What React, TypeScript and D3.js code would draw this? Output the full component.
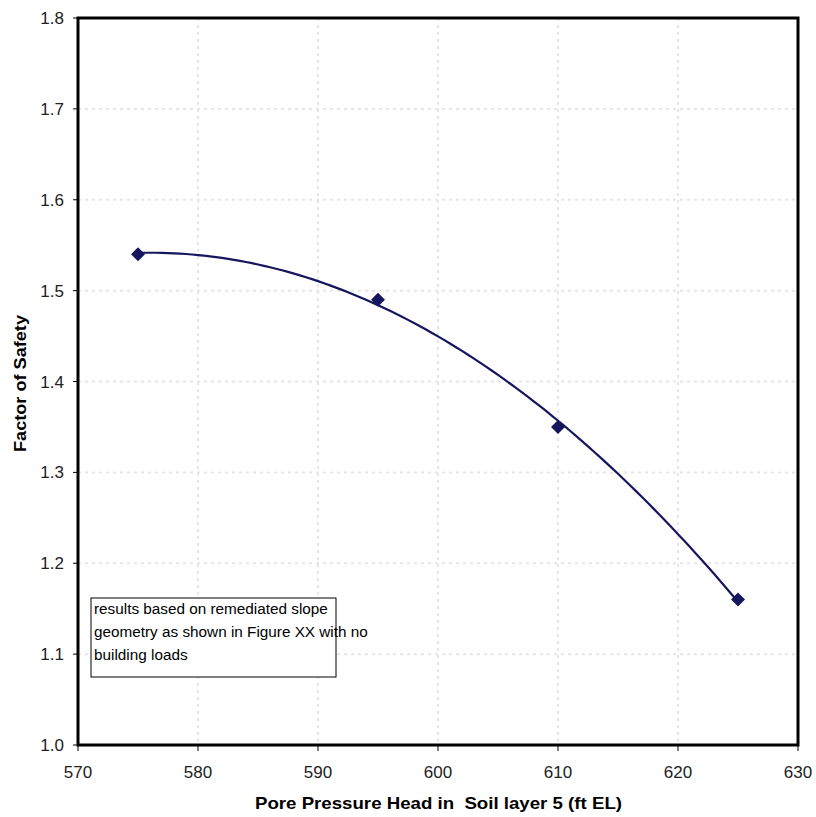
import React from "react";
import * as d3 from "d3";

const xValues = [575, 595, 610, 625];
const yValues = [1.54, 1.49, 1.35, 1.16];
const xTicks = [570, 580, 590, 600, 610, 620, 630];
const yTicks = [1.0, 1.1, 1.2, 1.3, 1.4, 1.5, 1.6, 1.7, 1.8];
const noteLines = [
  "results based on remediated slope",
  "geometry as shown in Figure XX with no",
  "building loads",
];

// least-squares quadratic trendline (like Excel's polynomial trendline)
function quadFit(xs: number[], ys: number[]) {
  const x0 = 600;
  const u = xs.map((x) => x - x0);
  const s = (k: number) => d3.sum(u, (v) => Math.pow(v, k));
  const t = (k: number) => d3.sum(u, (v, i) => Math.pow(v, k) * ys[i]);
  const A = [
    [s(0), s(1), s(2), t(0)],
    [s(1), s(2), s(3), t(1)],
    [s(2), s(3), s(4), t(2)],
  ];
  for (let i = 0; i < 3; i++) {
    for (let j = i + 1; j < 3; j++) {
      const f = A[j][i] / A[i][i];
      for (let k = i; k < 4; k++) A[j][k] -= f * A[i][k];
    }
  }
  const c = [0, 0, 0];
  for (let i = 2; i >= 0; i--) {
    let v = A[i][3];
    for (let k = i + 1; k < 3; k++) v -= A[i][k] * c[k];
    c[i] = v / A[i][i];
  }
  return (x: number) => c[0] + c[1] * (x - x0) + c[2] * (x - x0) * (x - x0);
}

export default function App() {
  const left = 78, right = 798, top = 18, bottom = 745;
  const x = d3.scaleLinear().domain([570, 630]).range([left, right]);
  const y = d3.scaleLinear().domain([1.0, 1.8]).range([bottom, top]);
  const f = quadFit(xValues, yValues);
  const xMin = d3.min(xValues)!, xMax = d3.max(xValues)!;
  const trend = d3.range(0, 101).map((i) => {
    const xv = xMin + ((xMax - xMin) * i) / 100;
    return [xv, f(xv)] as [number, number];
  });
  const line = d3
    .line<[number, number]>()
    .x((d) => x(d[0]))
    .y((d) => y(d[1]));
  const font = "'Liberation Sans', Arial, sans-serif";
  const navy = "#16165e";
  return (
    <svg
      width={816}
      height={817}
      style={{ position: "absolute", left: 0, top: 0, background: "#fff" }}
      fontFamily={font}
    >
      <rect x={0} y={0} width={816} height={817} fill="#fff" />
      {/* grid */}
      {yTicks.slice(1, -1).map((t) => (
        <line
          key={"gy" + t}
          x1={left}
          x2={right}
          y1={y(t)}
          y2={y(t)}
          stroke="#e6e6e6"
          strokeWidth={2}
          strokeDasharray="3 4"
        />
      ))}
      {xTicks.slice(1, -1).map((t) => (
        <line
          key={"gx" + t}
          x1={x(t)}
          x2={x(t)}
          y1={top}
          y2={bottom}
          stroke="#e6e6e6"
          strokeWidth={2}
          strokeDasharray="3 4"
        />
      ))}
      {/* ticks */}
      {xTicks.map((t) => (
        <g key={"xt" + t}>
          <line x1={x(t)} x2={x(t)} y1={bottom} y2={bottom + 6} stroke="#000" strokeWidth={1} />
          <text x={x(t)} y={778} textAnchor="middle" fontSize={17} fill="#222">
            {t}
          </text>
        </g>
      ))}
      {yTicks.map((t) => (
        <g key={"yt" + t}>
          <line x1={left - 5} x2={left} y1={y(t)} y2={y(t)} stroke="#000" strokeWidth={1} />
          <text x={64} y={y(t) + 6} textAnchor="end" fontSize={17} fill="#222">
            {t.toFixed(1)}
          </text>
        </g>
      ))}
      {/* border */}
      <rect
        x={left}
        y={top}
        width={right - left}
        height={bottom - top}
        fill="none"
        stroke="#000"
        strokeWidth={3}
      />
      {/* note box */}
      <rect x={91} y={598} width={245} height={79} fill="#fff" stroke="#000" strokeWidth={1} />
      {noteLines.map((s, i) => (
        <text key={s} x={94} y={614 + i * 23} fontSize={15.3} fill="#000">
          {s}
        </text>
      ))}
      {/* trendline */}
      <path d={line(trend) || ""} fill="none" stroke={navy} strokeWidth={2.2} />
      {/* markers */}
      {xValues.map((xv, i) => {
        const cx = x(xv), cy = y(yValues[i]);
        const r = 7;
        return (
          <path
            key={"m" + i}
            d={`M${cx},${cy - r}L${cx + r},${cy}L${cx},${cy + r}L${cx - r},${cy}Z`}
            fill={navy}
          />
        );
      })}
      {/* axis titles */}
      <text
        x={255}
        y={809}
        fontSize={16.5}
        fontWeight="bold"
        fill="#000"
        xmlSpace="preserve"
        textLength={367}
        lengthAdjust="spacingAndGlyphs"
      >
        {"Pore Pressure Head in  Soil layer 5 (ft EL)"}
      </text>
      <text
        transform={`translate(25.5,452) rotate(-90)`}
        fontSize={16}
        fontWeight="bold"
        fill="#000"
        textLength={137}
        lengthAdjust="spacingAndGlyphs"
      >
        Factor of Safety
      </text>
    </svg>
  );
}
